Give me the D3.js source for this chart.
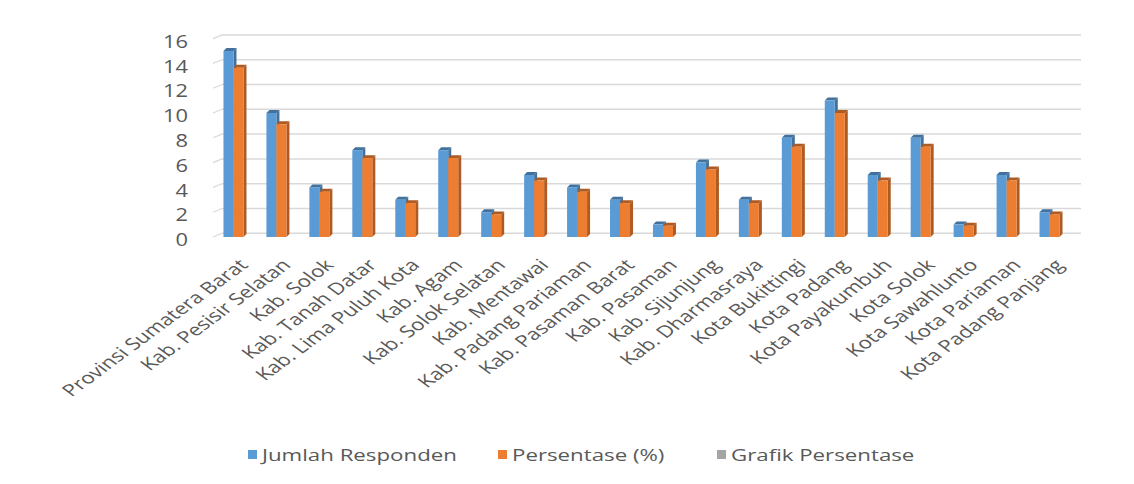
<!DOCTYPE html>
<html>
<head>
<meta charset="utf-8">
<script src="https://cdn.jsdelivr.net/npm/d3@7"></script>
<style>
  html, body { margin: 0; padding: 0; background: #fff; }
  svg { display: block; font-family: 'Open Sans', sans-serif; }
</style>
</head>
<body>
<div id="chart"></div>
<script>
const categories = [
  'Provinsi Sumatera Barat', 'Kab. Pesisir Selatan', 'Kab. Solok', 'Kab. Tanah Datar',
  'Kab. Lima Puluh Kota', 'Kab. Agam', 'Kab. Solok Selatan', 'Kab. Mentawai',
  'Kab. Padang Pariaman', 'Kab. Pasaman Barat', 'Kab. Pasaman', 'Kab. Sijunjung',
  'Kab. Dharmasraya', 'Kota Bukittingi', 'Kota Padang', 'Kota Payakumbuh',
  'Kota Solok', 'Kota Sawahlunto', 'Kota Pariaman', 'Kota Padang Panjang',
]
const jumlahResponden = [15, 10, 4, 7, 3, 7, 2, 5, 4, 3, 1, 6, 3, 8, 11, 5, 8, 1, 5, 2]
const persentase = [13.64, 9.09, 3.64, 6.36, 2.73, 6.36, 1.82, 4.55, 3.64, 2.73, 0.91, 5.45, 2.73, 7.27, 10, 4.55, 7.27, 0.91, 4.55, 1.82]
const legendLabels = ['Jumlah Responden', 'Persentase (%)', 'Grafik Persentase']
const yTicks = [0, 2, 4, 6, 8, 10, 12, 14, 16]

const width = 1134
const height = 484
const stretch = 1.35 // the picture is wider than tall, text too
const textColor = '#595959'
const colors = [
  { face: '#5b9bd5', dark: '#41719c' },
  { face: '#ed7d31', dark: '#ae5a21' },
  { face: '#a5a5a5', dark: '#7c7c7c' },
]

const svg = d3.select('#chart').append('svg').attr('width', width).attr('height', height)

const x = d3.scaleBand().domain(categories).range([212, 1071])
const y = d3.scaleLinear().domain([0, 16]).range([237, 38.6])

// back wall offset
const wallDx = 9
const wallDy = -3.7

// gridlines
const grid = svg.append('g')
for (const t of yTicks) {
  grid.append('line')
    .attr('x1', 213 + wallDx).attr('x2', 1081)
    .attr('y1', y(t) + wallDy).attr('y2', y(t) + wallDy)
    .attr('stroke', '#d9d9d9').attr('stroke-width', 1.5)
  grid.append('line')
    .attr('x1', 213).attr('x2', 213 + wallDx)
    .attr('y1', y(t)).attr('y2', y(t) + wallDy)
    .attr('stroke', '#d9d9d9').attr('stroke-width', 1.2)
}

// y axis labels
const yAxis = svg.append('g')
  .attr('transform', 'translate(188,3)')
  .call(d3.axisLeft(y).tickValues(yTicks).tickSize(0).tickPadding(0))
yAxis.select('.domain').remove()
yAxis.selectAll('text')
  .attr('fill', textColor)
  .attr('font-size', 17.5)
  .attr('font-family', "'Open Sans', sans-serif")
  .attr('x', 0)
  .attr('transform', `scale(${1.25},1)`)

// 3d bars
const barW = 10
const depth = 3
const groupW = barW * 2
function drawBars(values, k) {
  const g = svg.append('g')
  const c = colors[k]
  values.forEach((v, i) => {
    const x0 = x(categories[i]) + (x.bandwidth() - groupW) / 2 + k * barW
    const yt = y(v)
    const yb = y(0)
    g.append('polygon')
      .attr('points', [[x0 + barW, yt], [x0 + barW + depth, yt - depth], [x0 + barW + depth, yb - depth], [x0 + barW, yb]].join(' '))
      .attr('fill', c.dark)
    g.append('polygon')
      .attr('points', [[x0, yt], [x0 + depth, yt - depth], [x0 + barW + depth, yt - depth], [x0 + barW, yt]].join(' '))
      .attr('fill', c.dark)
    g.append('rect')
      .attr('x', x0).attr('y', yt)
      .attr('width', barW).attr('height', yb - yt)
      .attr('fill', c.face)
  })
}
drawBars(jumlahResponden, 0)
drawBars(persentase, 1)

// category labels
const xAxis = svg.append('g')
  .attr('transform', 'translate(10,262)')
  .call(d3.axisBottom(x).tickSize(0).tickPadding(0))
xAxis.select('.domain').remove()
xAxis.selectAll('text')
  .attr('fill', textColor)
  .attr('font-size', 16.5)
  .attr('font-family', "'Open Sans', sans-serif")
  .attr('text-anchor', 'end')
  .attr('y', 0)
  .attr('dy', '0.35em')
  .attr('transform', `scale(${stretch},1) rotate(-45)`)

// legend
const legendX = [248, 498, 717]
const legend = svg.append('g').attr('transform', 'translate(0,455)')
legendLabels.forEach((label, i) => {
  legend.append('rect')
    .attr('x', legendX[i]).attr('y', -5)
    .attr('width', 9).attr('height', 9)
    .attr('fill', colors[i].face)
  legend.append('text')
    .attr('transform', `translate(${legendX[i] + 14},0) scale(1.31,1)`)
    .attr('dy', '0.35em')
    .attr('font-size', 17)
    .attr('fill', textColor)
    .text(label)
})
</script>
</body>
</html>
